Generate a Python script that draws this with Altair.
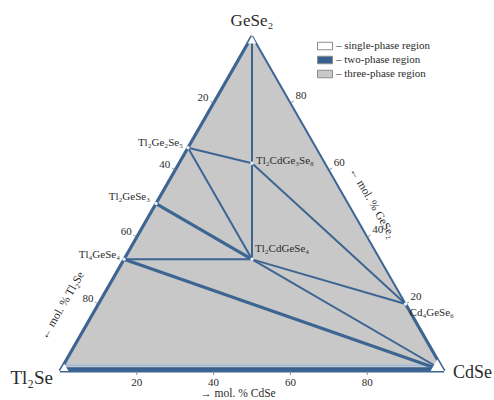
import altair as alt
import numpy as np
import pandas as pd

SQ = np.sqrt(3) / 2

# Phases of the Tl2Se–CdSe–GeSe2 system as mole fractions of the three components
phase_names = ["Tl₂Se", "CdSe", "GeSe₂", "Tl₂Ge₂Se₅", "Tl₂GeSe₃", "Tl₄GeSe₄",
               "Tl₂CdGe₃Se₈", "Tl₂CdGeSe₄", "Cd₄GeSe₆"]
x_tl2se = [1.0, 0.0, 0.0, 1 / 3, 1 / 2, 2 / 3, 0.19, 1 / 3, 0.0]
x_cdse = [0.0, 1.0, 0.0, 0.0, 0.0, 0.0, 0.19, 1 / 3, 0.8]
x_gese2 = [0.0, 0.0, 1.0, 2 / 3, 1 / 2, 1 / 3, 0.62, 1 / 3, 0.2]

# Tie lines bounding the three-phase triangles
heavy_lines = [("Tl₂Se", "GeSe₂"), ("Cd₄GeSe₆", "CdSe"), ("Tl₄GeSe₄", "CdSe"),
               ("Tl₂GeSe₃", "Tl₂CdGeSe₄"), ("Tl₂Se", "CdSe")]
light_lines = [("GeSe₂", "Cd₄GeSe₆"), ("GeSe₂", "Tl₂CdGeSe₄"), ("Tl₂Ge₂Se₅", "Tl₂CdGe₃Se₈"),
               ("Tl₂Ge₂Se₅", "Tl₂CdGeSe₄"), ("Tl₄GeSe₄", "Tl₂CdGeSe₄"), ("Tl₂CdGeSe₄", "CdSe"),
               ("Tl₂CdGeSe₄", "Cd₄GeSe₆"), ("Tl₂CdGe₃Se₈", "Cd₄GeSe₆")]

tick_values = [20, 40, 60, 80]

regions = ["single-phase region", "two-phase region", "three-phase region"]
region_colors = ["#ffffff", "#36608f", "#c8c8c8"]

# extent of the single-phase corners and of the two-phase strip along Tl2Se–CdSe
corner_extent = {"Tl₂Se": 0.022, "CdSe": 0.035, "GeSe₂": 0.022}
strip_gese2 = 0.011

LINE = "#3d6592"
TEXT = "#2b2b2b"
FONT = "'Liberation Serif', 'DejaVu Serif', serif"

comp = {n: (a, b, c) for n, a, b, c in zip(phase_names, x_tl2se, x_cdse, x_gese2)}


def to_xy(a, b, c):
    return b + c / 2, c * SQ


xy = {n: to_xy(*comp[n]) for n in phase_names}

xs = alt.Scale(domain=[-0.15625, 1.13021], nice=False, zero=False)
ys = alt.Scale(domain=[-0.07497, 0.95915], nice=False, zero=False)
X = lambda f="x": alt.X(f"{f}:Q", scale=xs, axis=None)
Y = lambda f="y": alt.Y(f"{f}:Q", scale=ys, axis=None)

legend = alt.Legend(
    title=None, orient="none", legendX=317, legendY=38,
    symbolType="M-1,-0.5H1V0.5H-1Z", symbolSize=225,
    symbolStrokeColor="#8c8c8c", symbolStrokeWidth=1,
    labelFont=FONT, labelFontSize=11, labelColor=TEXT,
    labelExpr="'– ' + datum.label", rowPadding=0, padding=0, labelOffset=3,
)
fill = alt.Fill("region:N", scale=alt.Scale(domain=regions, range=region_colors), legend=legend)


def triangle_rows(pts, region, key):
    pts = sorted(pts)
    (x0, y0), (x1, y1), (x2, y2) = pts
    ym = y0 + (y2 - y0) * (x1 - x0) / (x2 - x0)
    return [dict(region=region, key=key, x=x0, y=y0, y2=y0),
            dict(region=region, key=key, x=x1, y=max(y1, ym), y2=min(y1, ym)),
            dict(region=region, key=key, x=x2, y=y2, y2=y2)]


# three-phase field: the whole composition triangle
gray_df = pd.DataFrame(triangle_rows([xy["Tl₂Se"], xy["CdSe"], xy["GeSe₂"]],
                                     "three-phase region", "all"))

# two-phase strip along the Tl2Se–CdSe join
w = strip_gese2
strip_df = pd.DataFrame([
    dict(region="two-phase region", x=0.0, y=0.0, y2=0.0),
    dict(region="two-phase region", x=w / 2, y=w * SQ, y2=0.0),
    dict(region="two-phase region", x=1 - w / 2, y=w * SQ, y2=0.0),
    dict(region="two-phase region", x=1.0, y=0.0, y2=0.0),
])

# single-phase corners
corner_rows = []
vertices = ["Tl₂Se", "CdSe", "GeSe₂"]
for v in vertices:
    d = corner_extent[v]
    others = [o for o in vertices if o != v]
    pts = [xy[v]]
    for o in others:
        mix = [(1 - d) * p + d * q for p, q in zip(comp[v], comp[o])]
        pts.append(to_xy(*mix))
    corner_rows += triangle_rows(pts, "single-phase region", v)
corner_df = pd.DataFrame(corner_rows)


def lines_df(pairs):
    return pd.DataFrame([dict(x=xy[p][0], y=xy[p][1], x2=xy[q][0], y2=xy[q][1]) for p, q in pairs])


gray = alt.Chart(gray_df).mark_area(interpolate="linear").encode(x=X(), y=Y(), y2="y2:Q", fill=fill)
strip = alt.Chart(strip_df).mark_area(interpolate="linear").encode(x=X(), y=Y(), y2="y2:Q", fill=fill)
strip_edge_y = (w + 0.006) * SQ
strip_edge = alt.Chart(pd.DataFrame([dict(x=(w + 0.006) / 2, x2=1 - (w + 0.006) / 2, y=strip_edge_y)])).mark_rule(
    color="#9ebddd", strokeWidth=1.6).encode(x=X(), x2="x2:Q", y=Y())
corners = alt.Chart(corner_df).mark_area(interpolate="linear").encode(
    x=X(), y=Y(), y2="y2:Q", detail="key:N", fill=fill)

heavy = alt.Chart(lines_df(heavy_lines)).mark_rule(color=LINE, strokeWidth=3.2).encode(
    x=X(), y=Y(), x2="x2:Q", y2="y2:Q")
light = alt.Chart(lines_df(light_lines)).mark_rule(color=LINE, strokeWidth=2).encode(
    x=X(), y=Y(), x2="x2:Q", y2="y2:Q")

pts_df = pd.DataFrame([dict(name=n, x=xy[n][0], y=xy[n][1]) for n in phase_names[3:]])
points = alt.Chart(pts_df).mark_point(filled=True, color="#e9f0f8", size=12, opacity=1).encode(x=X(), y=Y())


def text_at(a, b, c, label, dx=0, dy=0, align="center", size=11, angle=0, baseline="middle"):
    x, y = to_xy(a, b, c)
    df = pd.DataFrame([dict(x=x, y=y, label=label)])
    kw = dict(font=FONT, fontSize=size, color=TEXT, dx=dx, dy=dy, align=align, baseline=baseline)
    if angle:
        kw["angle"] = angle
    return alt.Chart(df).mark_text(**kw).encode(x=X(), y=Y(), text="label:N")


def phase_label(name, dx, dy, align, size=11):
    return text_at(*comp[name], name, dx=dx, dy=dy, align=align, size=size)


labels = [
    phase_label("GeSe₂", 0, -15, "center", 17),
    phase_label("Tl₂Se", -7, 7, "right", 19),
    phase_label("CdSe", 9, 2, "left", 18),
    phase_label("Tl₂Ge₂Se₅", -5, -5, "right"),
    phase_label("Tl₂GeSe₃", -6, -7, "right"),
    phase_label("Tl₄GeSe₄", -4, -4, "right"),
    phase_label("Tl₂CdGe₃Se₈", 4, -2, "left"),
    phase_label("Tl₂CdGeSe₄", 3, -10, "left"),
    phase_label("Cd₄GeSe₆", 4, 9, "left"),
]

# edge scales in mol. %
tick_layers = []
for v in tick_values:
    t = v / 100
    tick_layers.append(text_at(t, 0, 1 - t, str(v), dx=-5, dy=-5, align="right"))   # Tl2Se
    tick_layers.append(text_at(0, 1 - t, t, str(v), dx=5, dy=-7, align="left"))     # GeSe2
    tick_layers.append(text_at(1 - t, t, 0, str(v), dx=0, dy=12, align="center"))   # CdSe

tick_marks = []
for v in tick_values:
    t = v / 100
    tick_marks.append(dict(p=(t, 0, 1 - t), q=(t + 0.006, -0.012, 1 - t + 0.006)))
    tick_marks.append(dict(p=(0, 1 - t, t), q=(-0.012, 1 - t + 0.006, t + 0.006)))
    tick_marks.append(dict(p=(1 - t, t, 0), q=(1 - t + 0.006, t + 0.006, -0.012)))
ticks_df = pd.DataFrame([dict(x=to_xy(*m["p"])[0], y=to_xy(*m["p"])[1],
                              x2=to_xy(*m["q"])[0], y2=to_xy(*m["q"])[1]) for m in tick_marks])
ticks = alt.Chart(ticks_df).mark_rule(color="#777777", strokeWidth=0.8).encode(
    x=X(), y=Y(), x2="x2:Q", y2="y2:Q")

titles = [
    text_at(0.85, 0, 0.15, "← mol. % Tl₂Se", dy=-30, size=11.5, angle=300),
    text_at(0, 0.53, 0.47, "← mol. % GeSe₂", dy=-21, size=11.5, angle=60),
    text_at(0.64, 0.36, 0, "→ mol. % CdSe", dx=2, dy=23, align="left", size=11.5),
]

chart = alt.layer(
    gray, strip, strip_edge, light, heavy, corners, ticks, points, *labels, *tick_layers, *titles
).properties(
    width=494, height=400, padding=0, background="white",
    autosize=alt.AutoSizeParams(type="none"),
).configure_view(stroke=None)

chart.save("out.html", embed_options={"renderer": "svg", "actions": False})
